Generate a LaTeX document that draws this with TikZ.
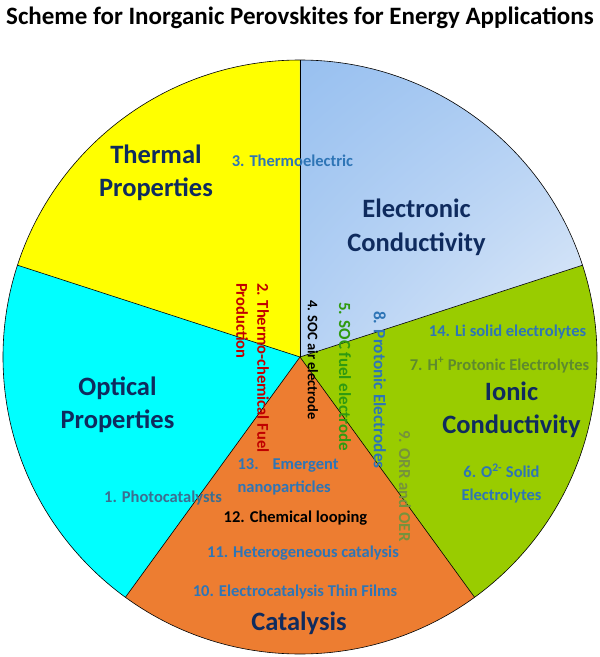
\documentclass[tikz,border=0pt]{standalone}
\usepackage{fontspec}
\setmainfont{Carlito}
\usetikzlibrary{calc,shadings}

\definecolor{thermalyellow}{HTML}{FFFF00}
\definecolor{opticalcyan}{HTML}{00FFFF}
\definecolor{catalysisorange}{HTML}{ED7D31}
\definecolor{ionicgreen}{HTML}{99CC00}
\definecolor{electrondark}{HTML}{98C0F0}
\definecolor{electronlight}{HTML}{E2ECF9}
\definecolor{catnavy}{HTML}{0F2B5E}
\definecolor{itemblue}{HTML}{2E75B6}
\definecolor{photoblue}{HTML}{3C6E90}
\definecolor{fuelred}{HTML}{C00000}
\definecolor{socgreen}{HTML}{2F9A10}
\definecolor{olivetext}{HTML}{5E8A2E}
\definecolor{orrolive}{HTML}{76923C}

\newcommand{\pieradius}{297}
\newcommand{\piesector}[3]{%
    \fill[#3] (c) -- ++(#1:\pieradius) arc (#1:#2:\pieradius) -- cycle;
}

\begin{document}
\begin{tikzpicture}[x=1pt,y=1pt,
    cat/.style={font=\fontsize{26.5}{33.5}\selectfont\bfseries,text=catnavy,align=center},
    item/.style={font=\fontsize{16.5}{23}\selectfont\bfseries},
    vitem/.style={item,rotate=-90,anchor=west,inner sep=0pt}]

\useasboundingbox (-300,-300) rectangle (300,357);

% pie center
\coordinate (c) at (0,0);

% sectors
\piesector{90}{162}{thermalyellow}
\piesector{162}{234}{opticalcyan}
\piesector{234}{306}{catalysisorange}
\piesector{-54}{18}{ionicgreen}
\shade[upper left=electrondark,upper right=electrondark!70!electronlight,
    lower left=electrondark!60!electronlight,lower right=electronlight]
    (c) -- ++(18:\pieradius) arc (18:90:\pieradius) -- cycle;

% outline and borders
\draw[semithick] (c) circle (\pieradius);
\foreach \ang in {18,90,162,234,306}
    \draw[semithick] (c) -- ++(\ang:\pieradius);

% title
\node (title) at (0,339) {\fontsize{25}{28}\selectfont\bfseries
    Scheme for Inorganic Perovskites for Energy Applications};

% category labels
\node[cat] (thermal) at (-144,184) {Thermal\\Properties};
\node[cat] (electronic) at (116.5,129.5) {Electronic\\Conductivity};
\node[cat] (ionic) at (211.5,-53) {Ionic\\Conductivity};
\node[cat] (optical) at (-182.5,-48) {Optical\\Properties};
\node[cat] (catalysis) at (-1,-266) {Catalysis};

% horizontal items
\node[item,text=itemblue] (thermoel) at (-7.5,196) {3. Thermoelectric};
\node[item,text=photoblue] (photo) at (-137,-141) {1. Photocatalysts};
\node[item,text=itemblue] (lisolid) at (207.5,25) {14. Li solid electrolytes};
\node[item,text=olivetext] (hproton) at (199.5,-8)
    {7. H\textsuperscript{+} Protonic Electrolytes};
\node[item,text=itemblue,align=center] (osolid) at (201.5,-126.5)
    {6. O\textsuperscript{2-} Solid\\Electrolytes};
\node[item,text=itemblue,align=left,anchor=west] (nano) at (-66,-119.5)
    {13.\hspace{14pt}Emergent\\nanoparticles};
\node[item,text=black] (looping) at (-4.5,-161) {12. Chemical looping};
\node[item,text=itemblue] (hetero) at (3,-196) {11. Heterogeneous catalysis};
\node[item,text=itemblue] (thinfilm) at (-5,-235) {10. Electrocatalysis Thin Films};

% vertical items
\node[vitem,text=fuelred] (fuel) at (-37,74) {2. Thermo-chemical Fuel};
\node[vitem,text=fuelred] (production) at (-58,74) {Production};
\node[vitem,text=black,font=\fontsize{14.5}{16}\selectfont\bfseries]
    (socair) at (13,57) {4. SOC air electrode};
\node[vitem,text=socgreen,font=\fontsize{17}{20}\selectfont\bfseries]
    (socfuel) at (45,55) {5. SOC fuel electrode};
\node[vitem,text=itemblue,font=\fontsize{17.3}{20}\selectfont\bfseries]
    (protonic) at (80,46) {8. Protonic Electrodes};
\node[vitem,text=orrolive,font=\fontsize{16.8}{20}\selectfont\bfseries]
    (orr) at (105,-73) {9. ORR and OER};

\end{tikzpicture}
\end{document}
